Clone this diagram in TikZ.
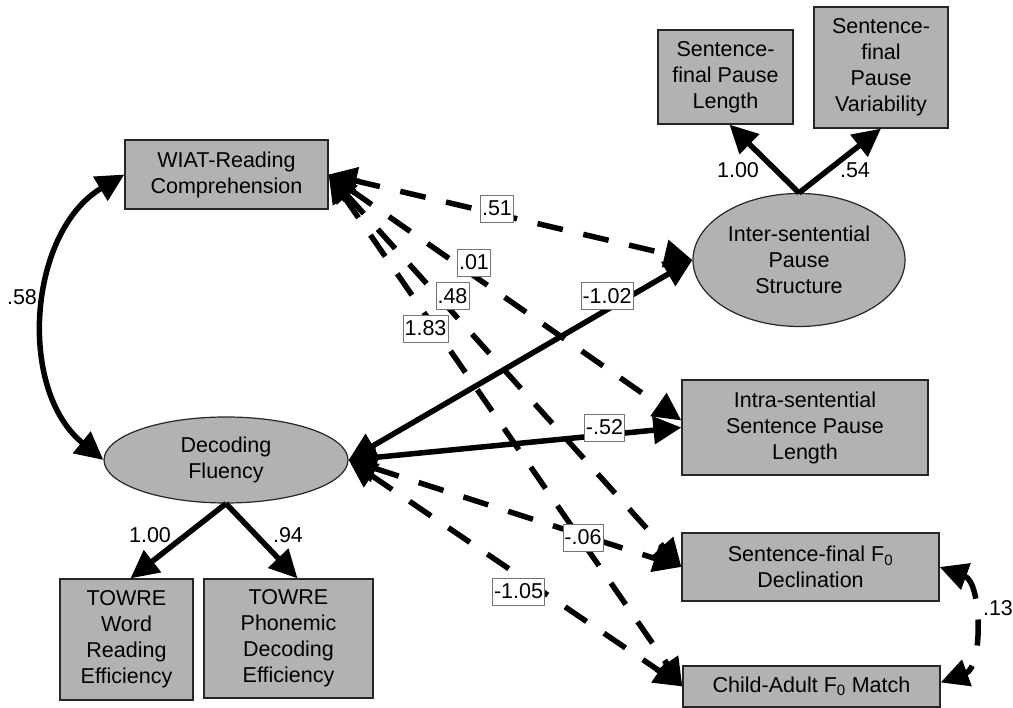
\documentclass[tikz,border=0pt]{standalone}
\usepackage{fontspec}
\setmainfont{Liberation Sans}
\usetikzlibrary{arrows.meta,shapes.geometric}
\definecolor{boxgray}{gray}{0.70}
\definecolor{labborder}{gray}{0.45}
\begin{document}
\begin{tikzpicture}[x=1pt,y=1pt,
  txt/.style={font=\fontsize{21.5}{26}\selectfont, align=center},
  obs/.style={txt, draw=black!85, line width=1.2pt, fill=boxgray, inner sep=0pt},
  lat/.style={obs, ellipse},
  lab/.style={font=\fontsize{21.5}{26}\selectfont, draw=labborder, line width=0.8pt, fill=white,
              inner xsep=1.5pt, inner ysep=0pt, text height=15pt, text depth=0pt, minimum height=27pt},
  plainlab/.style={font=\fontsize{21.5}{26}\selectfont, inner sep=0pt},
  tipA/.tip={Triangle[length=28pt,width=27pt]},
  oneway/.style={line width=5.5pt, -tipA},
  solidarr/.style={line width=5.5pt, tipA-tipA},
  dasharr/.style={line width=5.5pt, tipA-tipA, dash pattern=on 26pt off 21pt}
]
\useasboundingbox (0,0) rectangle (1013,708);

% nodes
\node[obs, minimum width=203pt, minimum height=69pt] (wiat) at (226.5,533.5) {WIAT-Reading\\Comprehension};
\node[lat, minimum width=244pt, minimum height=86pt] (dec) at (226,248) {Decoding\\Fluency};
\node[obs, minimum width=133pt, minimum height=121pt] (tw) at (126.5,68.5) {TOWRE\\Word\\Reading\\Efficiency};
\node[obs, minimum width=169pt, minimum height=119pt] (tp) at (288.5,69.5) {TOWRE\\Phonemic\\Decoding\\Efficiency};
\node[lat, minimum width=212pt, minimum height=133pt] (inter) at (799,448) {Inter-sentential\\Pause\\Structure};
\node[obs, minimum width=135pt, minimum height=94pt] (sfpl) at (725.5,631) {Sentence-\\final Pause\\Length};
\node[obs, minimum width=134pt, minimum height=121pt] (sfpv) at (881,640.5) {Sentence-\\final\\Pause\\Variability};
\node[obs, minimum width=246pt, minimum height=95pt] (intra) at (805,280.5) {Intra-sentential\\Sentence Pause\\Length};
\node[obs, minimum width=257pt, minimum height=68pt] (decl) at (810.5,141) {Sentence-final F\textsubscript{0}\\Declination};
\node[obs, minimum width=257pt, minimum height=41pt] (match) at (811.5,21.5) {Child-Adult F\textsubscript{0} Match};

% connectors
\draw[solidarr] (wiat.west) to[bend right=55] (dec.west);
\draw[oneway] (dec.south) -- ([xshift=4pt]tw.north);
\draw[oneway] (dec.south) -- ([xshift=9pt]tp.north);
\draw[oneway] (inter.north) -- ([xshift=4pt]sfpl.south);
\draw[oneway] (inter.north) -- (sfpv.south);
\draw[dasharr] (wiat.east) -- (inter.west);
\draw[dasharr] (wiat.east) -- ([yshift=7pt]intra.west);
\draw[dasharr] (wiat.east) -- (decl.west);
\draw[dasharr] (wiat.east) -- (match.west);
\draw[solidarr] (dec.east) -- (inter.west);
\draw[solidarr] (dec.east) -- (intra.west);
\draw[dasharr] (dec.east) -- (decl.west);
\draw[dasharr] (dec.east) -- (match.west);
\draw[dasharr] (decl.east) to[out=-20,in=20] ([yshift=4pt]match.east);

% edge labels
\node[lab] (l51) at (497,499.5) {.51};
\node[lab] (l01) at (474,445.5) {.01};
\node[lab] (l48) at (452.5,412) {.48};
\node[lab] (l183) at (425.5,379.5) {1.83};
\node[lab] (l102) at (607,412) {-1.02};
\node[lab] (l52) at (604.5,280.5) {-.52};
\node[lab] (l06) at (583,170.5) {-.06};
\node[lab] (l105) at (518.5,116.5) {-1.05};

\node[plainlab] (p100a) at (738,538) {1.00};
\node[plainlab] (p54) at (855,538) {.54};
\node[plainlab] (p100b) at (150,173) {1.00};
\node[plainlab] (p94) at (288,173) {.94};
\node[plainlab] (p58) at (22,411) {.58};
\node[plainlab] (p13) at (998,100) {.13};
\end{tikzpicture}
\end{document}
